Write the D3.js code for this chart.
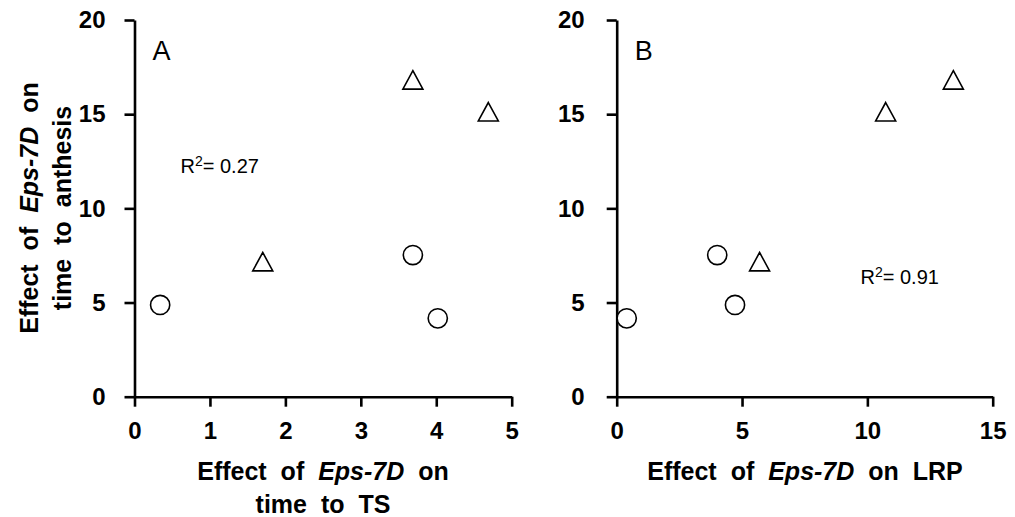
<!DOCTYPE html>
<html>
<head>
<meta charset="utf-8">
<script src="https://cdn.jsdelivr.net/npm/d3@7"></script>
<style>
  html, body { margin: 0; padding: 0; background: #fff; }
  svg text { font-family: "Liberation Sans", Arial, sans-serif; fill: #000; }
</style>
</head>
<body>
<svg id="chart" width="1015" height="517"></svg>
<script>
// ---- data ----
const yTicks = [0, 5, 10, 15, 20];
const xTicksA = [0, 1, 2, 3, 4, 5];
const xTicksB = [0, 5, 10, 15];

// Panel A: effect on time to TS (x) vs effect on time to anthesis (y)
const circlesAx = [0.34, 3.69, 4.02];
const circlesAy = [4.87, 7.52, 4.16];
const trianglesAx = [1.70, 3.69, 4.69];
const trianglesAy = [7.17, 16.82, 15.13];

// Panel B: effect on LRP (x) vs effect on time to anthesis (y)
const circlesBx = [0.40, 4.01, 4.72];
const circlesBy = [4.16, 7.52, 4.87];
const trianglesBx = [5.70, 10.73, 13.43];
const trianglesBy = [7.17, 15.13, 16.82];

const r2A = "0.27";
const r2B = "0.91";

// ---- layout ----
const svg = d3.select("#chart");
const yTop = 20, yBottom = 396.7;

const yScale = d3.scaleLinear().domain([0, 20]).range([yBottom, yTop]);
const xA = d3.scaleLinear().domain([0, 5]).range([134.5, 511.7]);
const xB = d3.scaleLinear().domain([0, 15]).range([616.7, 992.7]);

function zip(xs, ys) { return xs.map((x, i) => ({ x: x, y: ys[i] })); }

function drawPanel(xScale, xTicks, circ, tri, letter, r2, r2pos, yPad) {
  const g = svg.append("g");

  const ax = g.append("g")
    .attr("transform", `translate(0,${yBottom})`)
    .call(d3.axisBottom(xScale).tickValues(xTicks).tickSize(10).tickSizeOuter(0).tickPadding(15).tickFormat(d3.format("d")));
  const ay = g.append("g")
    .attr("transform", `translate(${xScale.range()[0]},0)`)
    .call(d3.axisLeft(yScale).tickValues(yTicks).tickSize(10).tickSizeOuter(0).tickPadding(yPad).tickFormat(d3.format("d")));

  [ax, ay].forEach(a => {
    a.selectAll("path.domain").attr("stroke", "#000").attr("stroke-width", 2.6);
    a.selectAll(".tick line").attr("stroke", "#000").attr("stroke-width", 2.6);
    a.selectAll(".tick text")
      .style("font-family", '"Liberation Sans", Arial, sans-serif')
      .style("font-weight", "bold")
      .style("font-size", "24px")
      .attr("fill", "#000");
  });

  // circles
  g.selectAll("circle.pt").data(circ).enter().append("circle")
    .attr("class", "pt")
    .attr("cx", d => xScale(d.x))
    .attr("cy", d => yScale(d.y))
    .attr("r", 9.6)
    .attr("fill", "#fff")
    .attr("stroke", "#000")
    .attr("stroke-width", 1.6);

  // triangles
  const triPath = "M0,-9.2L10,9.2L-10,9.2Z";
  g.selectAll("path.tri").data(tri).enter().append("path")
    .attr("class", "tri")
    .attr("d", triPath)
    .attr("transform", d => `translate(${xScale(d.x)},${yScale(d.y)})`)
    .attr("fill", "#fff")
    .attr("stroke", "#000")
    .attr("stroke-width", 1.6);

  // panel letter
  g.append("text")
    .attr("x", xScale.range()[0] + 18)
    .attr("y", 60)
    .style("font-size", "27px")
    .text(letter);

  // R2 text
  const t = g.append("text")
    .attr("x", r2pos[0])
    .attr("y", r2pos[1])
    .style("font-size", "20px");
  t.append("tspan").text("R");
  t.append("tspan").attr("dy", -7).style("font-size", "14px").text("2");
  t.append("tspan").attr("dy", 7).text("= " + r2);
}

drawPanel(xA, xTicksA, zip(circlesAx, circlesAy), zip(trianglesAx, trianglesAy), "A", r2A, [180.5, 173], 19);
drawPanel(xB, xTicksB, zip(circlesBx, circlesBy), zip(trianglesBx, trianglesBy), "B", r2B, [860.5, 284], 22);

// axis titles
function labelLine(parent, x, y, parts, rotate) {
  const t = parent.append("text")
    .attr("text-anchor", "middle")
    .attr("transform", rotate ? `translate(${x},${y}) rotate(-90)` : `translate(${x},${y})`)
    .style("font-size", "25px")
    .style("font-weight", "bold")
    .style("word-spacing", "7px");
  parts.forEach(p => {
    t.append("tspan").style("font-style", p.italic ? "italic" : "normal").text(p.t);
  });
  return t;
}

const line1 = [{ t: "Effect of " }, { t: "Eps-7D", italic: true }, { t: " on" }];

// y title (panel A)
labelLine(svg, 38, 208, line1, true);
labelLine(svg, 71, 208, [{ t: "time to anthesis" }], true);

// x title panel A
labelLine(svg, 323, 480, line1, false);
labelLine(svg, 323, 513, [{ t: "time to TS" }], false);

// x title panel B
labelLine(svg, 805, 480, [{ t: "Effect of " }, { t: "Eps-7D", italic: true }, { t: " on LRP" }], false);
</script>
</body>
</html>
